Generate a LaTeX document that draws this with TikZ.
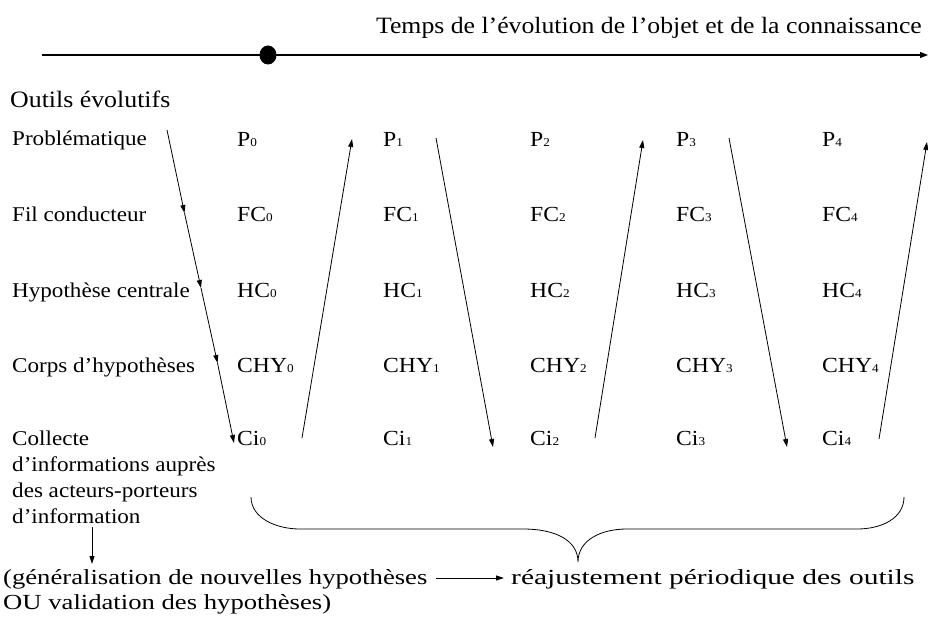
\documentclass[tikz,border=0pt]{standalone}
\usepackage{fontspec}
\setmainfont[FakeStretch=1.1]{Liberation Serif}
\newfontfamily\botfont[FakeStretch=1.24]{Liberation Serif}
\newfontfamily\reajfont[FakeStretch=1.37]{Liberation Serif}
\usetikzlibrary{arrows.meta,shapes.geometric}
\newcommand{\idx}[1]{{\fontsize{12}{12}\selectfont #1}}
\begin{document}
\begin{tikzpicture}[x=1pt,y=-1pt,
  lbl/.style={anchor=base west, inner sep=0pt, font=\fontsize{21}{21}\selectfont},
  cell/.style={anchor=base west, inner sep=0pt, font=\fontsize{21.5}{21.5}\selectfont},
  big/.style={anchor=base west, inner sep=0pt, font=\botfont\fontsize{21.5}{21.5}\selectfont},
  flow/.style={line width=0.8pt, -{Triangle[length=8pt,width=5pt]}},
  axis/.style={line width=1.1pt, -{Triangle[length=8pt,width=6pt]}},
  brace/.style={line width=0.8pt},
  dot/.style={ellipse, fill=black, inner sep=0pt, minimum width=17pt, minimum height=19pt}]
\useasboundingbox (0,0) rectangle (928,628);

% time axis
\node[anchor=base east, inner sep=0pt, font=\fontsize{23.4}{23.4}\selectfont] (title) at (922,34)
  {Temps de l’évolution de l’objet et de la connaissance};
\coordinate (ts) at (42,55);
\coordinate (te) at (928,55);
\draw[axis] (ts) -- (te);
\node[dot] (now) at (268,55) {};

% left labels
\node[anchor=base west, inner sep=0pt, font=\fontsize{23.5}{23.5}\selectfont] (outils) at (10,108) {Outils évolutifs};
\node[lbl] (lp) at (12,146) {Problématique};
\node[lbl] (lfc) at (12,222) {Fil conducteur};
\node[lbl] (lhc) at (12,297) {Hypothèse centrale};
\node[lbl] (lchy) at (12,372) {Corps d’hypothèses};
\node[lbl] (lci1) at (12,445) {Collecte};
\node[lbl] (lci2) at (12,471) {d’informations auprès};
\node[lbl] (lci3) at (12,497) {des acteurs-porteurs};
\node[lbl] (lci4) at (12,523) {d’information};

% grid of tools
\foreach \i/\x in {0/237,1/383,2/530,3/676,4/822}{
  \node[cell] (p\i) at (\x,147) {P\idx{\i}};
  \node[cell] (fc\i) at (\x,222) {FC\idx{\i}};
  \node[cell] (hc\i) at (\x,297) {HC\idx{\i}};
  \node[cell] (chy\i) at (\x,372) {CHY\idx{\i}};
  \node[cell] (ci\i) at (\x,445) {Ci\idx{\i}};
}

% zigzag arrows
\coordinate (a0) at (167,130);
\coordinate (a1) at (184.5,213);
\coordinate (a2) at (201,288);
\coordinate (a3) at (217.5,363);
\coordinate (a4) at (234,443);
\draw[flow] (a0) -- (a1);
\draw[flow] (a1) -- (a2);
\draw[flow] (a2) -- (a3);
\draw[flow] (a3) -- (a4);

\coordinate (b0) at (302,438);
\coordinate (b1) at (352,139);
\draw[flow] (b0) -- (b1);
\coordinate (c0) at (436,138);
\coordinate (c1) at (493,447);
\draw[flow] (c0) -- (c1);
\coordinate (d0) at (595,438);
\coordinate (d1) at (643,140);
\draw[flow] (d0) -- (d1);
\coordinate (e0) at (729,138);
\coordinate (e1) at (787,447);
\draw[flow] (e0) -- (e1);
\coordinate (f0) at (879,439);
\coordinate (f1) at (927,142);
\draw[flow] (f0) -- (f1);

% brace
\draw[brace] (251,497) .. controls (251,518) and (276,529) .. (300,529) -- (523,529)
  .. controls (555,529) and (578,540) .. (578,562)
  .. controls (578,540) and (601,529) .. (627,529) -- (857,529)
  .. controls (882,529) and (904,518) .. (904,497);

% bottom
\coordinate (v0) at (92,527);
\coordinate (v1) at (92,564);
\draw[flow] (v0) -- (v1);
\node[big] (gen) at (3,584) {(généralisation de nouvelles hypothèses};
\node[big] (ou) at (3,609) {OU validation des hypothèses)};
\node[big, font=\reajfont\fontsize{21.5}{21.5}\selectfont] (reaj) at (511,584) {réajustement périodique des outils};
\coordinate (h0) at (436,578);
\coordinate (h1) at (504,578);
\draw[flow] (h0) -- (h1);
\end{tikzpicture}
\end{document}
